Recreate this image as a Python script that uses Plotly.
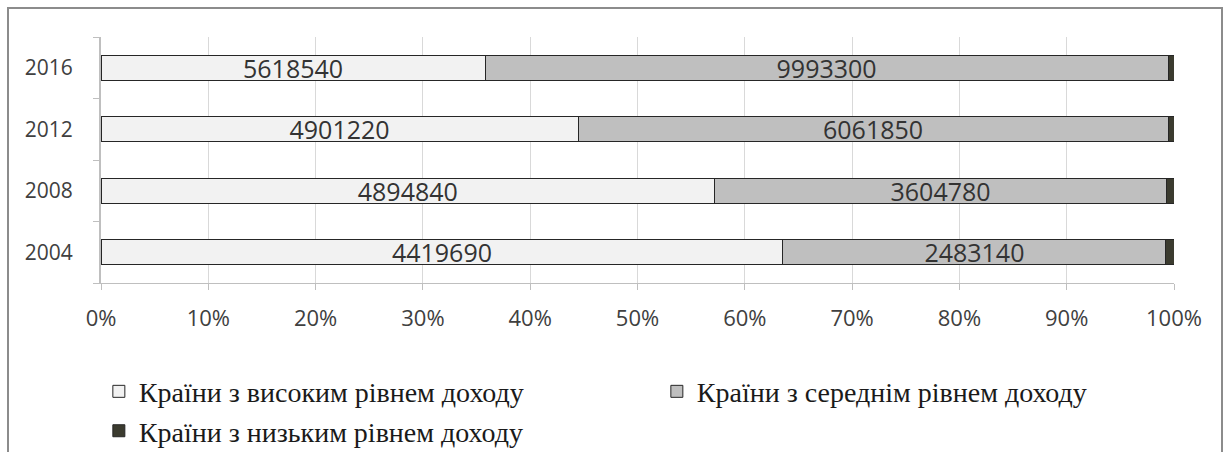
import plotly.graph_objects as go

# GNI by country income group
years = ["2004", "2008", "2012", "2016"]
high_income = [4419690, 4894840, 4901220, 5618540]
middle_income = [2483140, 3604780, 6061850, 9993300]
low_income = [52000, 60000, 61000, 86000]

names = [
    "Країни з високим рівнем доходу",
    "Країни з середнім рівнем доходу",
    "Країни з низьким рівнем доходу",
]
series = [high_income, middle_income, low_income]
fills = ["#f2f2f2", "#bfbfbf", "#3b3b2f"]
show_labels = [True, True, False]

W, H = 1228, 452
L, R, T, B = 101, 54, 37, 169
pw, ph = W - L - R, H - T - B

fig = go.Figure()
for name, vals, col, lab in zip(names, series, fills, show_labels):
    fig.add_trace(go.Bar(
        y=years, x=vals, name=name, orientation="h",
        marker=dict(color=col, line=dict(color="#262626", width=1)),
        text=[str(v) for v in vals] if lab else None,
        textposition="inside" if lab else "none",
        insidetextanchor="middle",
        textfont=dict(family="Open Sans", size=25, color="#333333"),
        hoverinfo="skip",
    ))

# outer chart frame
fig.add_shape(
    type="rect", xref="paper", yref="paper",
    x0=(8 - L) / pw, x1=(1222 - L) / pw,
    y0=-(H + 10 - (H - B)) / ph, y1=(H - B - 8) / ph,
    line=dict(color="#8c8c8c", width=2), fillcolor="rgba(0,0,0,0)",
    layer="below",
)

fig.update_layout(
    width=W, height=H,
    margin=dict(l=L, r=R, t=T, b=B, pad=0, autoexpand=False),
    barmode="stack", barnorm="percent", bargap=0.6,
    plot_bgcolor="white", paper_bgcolor="white",
    uniformtext=dict(minsize=25, mode="show"),
    xaxis=dict(
        range=[0, 100], dtick=10, ticksuffix="%",
        showgrid=True, gridcolor="#d9d9d9", gridwidth=1,
        showline=True, linecolor="#bfbfbf", linewidth=1,
        ticks="outside", ticklen=6, tickcolor="#bfbfbf",
        ticklabelstandoff=10,
        tickfont=dict(family="Open Sans", size=22, color="#404040"),
        zeroline=False, fixedrange=True,
    ),
    yaxis=dict(
        type="category", categoryorder="array", categoryarray=years,
        range=[-0.5, 3.5],
        showline=True, linecolor="#bfbfbf", linewidth=2,
        ticks="outside", tickson="boundaries", ticklen=6, tickcolor="#bfbfbf",
        ticklabelstandoff=22,
        tickfont=dict(family="Open Sans", size=21, color="#404040"),
        showgrid=False, fixedrange=True,
    ),
    legend=dict(
        orientation="h", x=-0.002, xanchor="left", y=-0.34, yanchor="top",
        entrywidth=513, entrywidthmode="pixels",
        font=dict(family="Liberation Serif", size=28, color="#1a1a1a"),
        itemwidth=30, traceorder="normal", bgcolor="rgba(0,0,0,0)",
    ),
    showlegend=True,
)

fig.write_html("out.html")
